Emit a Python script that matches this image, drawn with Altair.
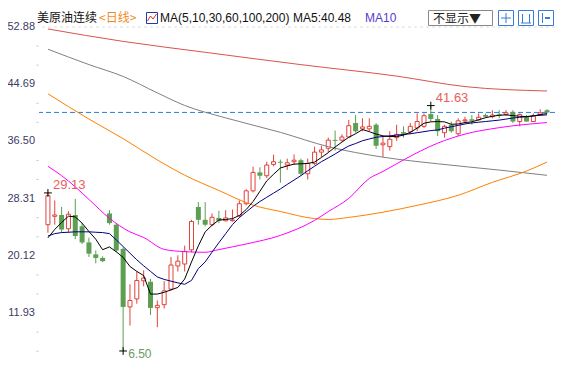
import altair as alt
import pandas as pd

# ---------------- data ----------------
opens = [24.58, 25.78, 25.97, 24.00, 25.97, 24.35, 22.04, 20.33, 19.82, 26.19,
         24.58, 21.12, 12.81, 13.96, 16.55, 16.41, 12.71, 13.13, 15.35, 18.67,
         18.95, 20.98, 27.12, 25.28, 24.58, 25.55, 25.14, 25.14, 25.87, 27.58,
         29.43, 32.06, 31.59, 33.21, 33.59, 33.12, 33.59, 33.81, 31.87, 33.35,
         34.97, 35.53, 36.72, 36.68, 37.13, 39.13, 38.30, 38.30, 38.89, 36.02,
         35.75, 37.05, 37.83, 37.88, 38.43, 38.66, 40.41, 39.72, 37.74, 38.89,
         37.60, 39.45, 39.68, 39.58, 40.28, 40.04, 40.37, 40.37, 40.73, 39.35,
         40.04, 39.35, 40.28, 40.97]
highs = [29.13, 28.05, 27.12, 26.52, 28.27, 24.81, 22.73, 20.89, 20.06, 26.66,
         24.81, 21.34, 16.04, 17.88, 18.05, 16.83, 13.73, 16.50, 19.96, 20.19,
         21.58, 25.28, 27.81, 27.81, 26.19, 26.56, 26.66, 26.75, 28.05, 29.65,
         32.89, 32.80, 33.59, 34.60, 33.91, 34.04, 34.64, 34.04, 34.04, 35.75,
         35.89, 37.05, 38.06, 37.51, 39.58, 40.28, 39.82, 39.82, 39.13, 37.27,
         37.96, 38.89, 38.66, 39.13, 40.51, 40.51, 41.63, 40.28, 38.89, 39.35,
         39.82, 40.04, 40.28, 40.51, 40.51, 40.97, 40.97, 40.97, 40.97, 40.51,
         40.28, 40.51, 41.11, 41.11]
lows = [23.42, 24.58, 23.42, 23.42, 22.51, 21.81, 19.96, 19.04, 19.22, 24.58,
        20.65, 6.50, 10.15, 13.27, 15.76, 11.65, 9.90, 12.58, 15.11, 17.88,
        17.88, 20.65, 24.58, 24.35, 24.35, 24.81, 25.04, 25.04, 25.60, 27.35,
        29.20, 31.04, 31.27, 32.94, 30.58, 32.42, 33.12, 31.59, 31.04, 33.12,
        34.28, 34.97, 35.19, 36.50, 37.05, 37.74, 37.96, 37.96, 35.43, 34.28,
        35.19, 36.58, 37.05, 37.51, 37.96, 38.43, 39.35, 37.27, 37.05, 37.74,
        37.27, 39.13, 38.89, 39.45, 39.90, 39.82, 39.82, 40.18, 39.13, 38.66,
        39.30, 39.30, 40.18, 40.51]
closes = [28.74, 25.97, 23.89, 26.08, 22.96, 22.04, 20.43, 19.82, 19.36, 24.81,
          20.89, 12.81, 13.73, 16.59, 16.94, 12.67, 13.03, 15.11, 18.81, 19.36,
          20.75, 25.04, 25.28, 24.58, 25.64, 25.14, 25.55, 25.25, 27.58, 29.43,
          32.06, 31.59, 33.12, 33.59, 33.45, 33.45, 33.81, 31.87, 33.35, 34.97,
          35.29, 36.68, 36.58, 37.13, 38.75, 37.96, 38.57, 38.66, 35.89, 36.26,
          36.81, 37.51, 37.60, 38.66, 39.35, 40.18, 39.72, 37.96, 38.66, 37.96,
          39.45, 39.58, 39.45, 39.96, 40.04, 40.28, 40.18, 40.60, 39.35, 40.37,
          39.35, 40.18, 40.60, 40.65]

ma5 = [22.7, 23.9, 24.9, 25.8, 25.7, 24.8, 23.6, 22.5, 21.0, 21.4,
       20.7, 19.9, 18.6, 17.9, 17.3, 14.65, 14.65, 14.9, 15.25, 15.6,
       16.8, 19.25, 21.55, 23.55, 24.5, 25.25, 25.33, 25.45, 25.9, 26.75,
       27.9, 29.36, 30.85, 31.8, 32.7, 33.0, 33.25, 33.3, 33.35, 33.55,
       34.2, 34.9, 35.7, 36.4, 37.1, 37.6, 38.2, 37.9, 37.55, 37.3,
       37.2, 37.2, 37.4, 37.8, 38.4, 39.1, 39.3, 39.35, 39.3, 38.95,
       39.0, 39.2, 39.3, 39.6, 39.9, 40.1, 40.25, 40.3, 40.2, 40.1,
       40.05, 40.15, 40.35, 40.48]
ma10 = [22.96, 23.3, 23.45, 23.5, 23.56, 23.56, 23.56, 23.5, 23.45, 23.3,
        22.4, 21.45, 20.5, 19.55, 18.7, 17.9, 17.1, 16.75, 16.5, 16.25,
        16.05, 16.6, 18.3, 19.25, 20.65, 22.0, 23.3, 24.6, 25.6, 26.4,
        27.2, 27.9, 28.5, 29.1, 29.7, 30.35, 30.97, 31.6, 32.3, 32.95,
        33.6, 34.14, 34.7, 35.3, 35.85, 36.2, 36.6, 36.85, 37.1, 37.2,
        37.3, 37.4, 37.5, 37.6, 37.75, 37.9, 38.05, 38.15, 38.4, 38.6,
        38.8, 39.0, 39.15, 39.25, 39.35, 39.45, 39.55, 39.7, 39.85, 39.95,
        40.05, 40.15, 40.25, 40.3]
ma30_day = [0, 2, 4, 6, 9, 12, 14, 17, 20, 23, 25, 29, 34, 39, 41, 44, 47, 49, 52, 57, 61, 66, 73]
ma30 = [32.94, 31.6, 30.0, 28.2, 25.5, 23.55, 22.75, 21.05, 20.72, 20.63, 21.02, 21.82,
        23.05, 25.2, 26.45, 28.35, 31.2, 32.2, 33.85, 36.25, 37.55, 38.47, 39.2]
ma60_day = [0, 6, 11, 16, 20, 25, 30, 34, 39, 41, 44, 49, 54, 60, 65, 70, 73]
ma60 = [43.32, 39.7, 36.9, 33.85, 31.67, 29.48, 27.38, 26.47, 25.45, 25.33, 25.62,
        26.37, 27.35, 28.79, 30.64, 32.26, 33.55]
ma100_day = [0, 6, 11, 16, 20, 26, 34, 41, 49, 57, 66, 73]
ma100 = [49.70, 47.5, 45.8, 43.45, 41.65, 39.87, 37.8, 35.75, 34.25, 33.3, 32.4, 31.65]
ma200_day = [0, 11, 23, 37, 51, 61, 73]
ma200 = [52.60, 50.82, 49.26, 47.49, 45.85, 44.35, 43.72]

y_ticks = [11.93, 20.12, 28.31, 36.50, 44.69, 52.88]
y_minor = [50.15, 47.42, 41.96, 39.23, 33.77, 31.04, 25.58, 22.85, 17.39, 14.66, 9.20, 6.47]
last_price = 40.65

mark_day = [0, 11, 56]
mark_val = [29.13, 6.50, 41.63]

# ---------------- styling ----------------
RED = "#e2423a"
GREEN = "#5c9e52"
LBL_RED = "#e8605a"
LBL_GREEN = "#6a9a6a"
AXIS_C = "#c6d9ea"

n = len(opens)
df = pd.DataFrame({"i": list(range(n)), "open": opens, "high": highs,
                   "low": lows, "close": closes})

XS = alt.Scale(domain=[-0.5737, 73.43], nice=False, zero=False)
YS = alt.Scale(domain=[4.782, 55.600], nice=False, zero=False)


def xq(f="i:Q"):
    return alt.X(f, scale=XS, axis=None)


def yq(f):
    return alt.Y(f, scale=YS, axis=None)


layers = []

# y axis: domain line + major ticks
tick_df = pd.DataFrame({"v": y_ticks})
axis_layer = alt.Chart(tick_df).mark_rule(opacity=0).encode(
    y=alt.Y("v:Q", scale=YS,
            axis=alt.Axis(values=y_ticks, labels=False, title=None, grid=False,
                          domainColor=AXIS_C, tickColor=AXIS_C, tickSize=4))
)
layers.append(axis_layer)
# tick labels placed through the same y scale
layers.append(alt.Chart(tick_df).mark_text(
    align="right", baseline="middle", font="Liberation Sans", fontSize=11,
    color="#3b3b63").encode(y=yq("v:Q"), x=alt.value(-4),
                            text=alt.Text("v:Q", format=".2f")))

minor = alt.Chart(pd.DataFrame({"v": y_minor})).mark_rule(color=AXIS_C).encode(
    y=yq("v:Q"), x=alt.value(-3), x2=alt.value(0))
layers.append(minor)

top_dash = alt.Chart(pd.DataFrame({"v": [y_ticks[-1]]})).mark_rule(
    color="#dddddd", strokeDash=[3, 3]).encode(y=yq("v:Q"))
layers.append(top_dash)

last_line = alt.Chart(pd.DataFrame({"v": [last_price]})).mark_rule(
    color="#2a7fdd", strokeDash=[5, 3], strokeWidth=1).encode(y=yq("v:Q"))
layers.append(last_line)

base = alt.Chart(df)
up = base.transform_filter("datum.close >= datum.open")
dn = base.transform_filter("datum.close < datum.open")

layers.append(up.mark_rule(color=RED, strokeWidth=1).encode(
    x=xq(), y=yq("low:Q"), y2="high:Q"))
layers.append(dn.mark_rule(color=GREEN, strokeWidth=1).encode(
    x=xq(), y=yq("low:Q"), y2="high:Q"))
layers.append(up.mark_bar(size=4, fill="white", stroke=RED, strokeWidth=1).encode(
    x=xq(), y=yq("open:Q"), y2="close:Q"))
layers.append(dn.mark_bar(size=5, color=GREEN).encode(
    x=xq(), y=yq("open:Q"), y2="close:Q"))


def ma_layer(days, vals, color, interp="monotone"):
    d = pd.DataFrame({"i": days, "v": vals})
    return alt.Chart(d).mark_line(color=color, strokeWidth=1, interpolate=interp).encode(
        x=xq(), y=yq("v:Q"))


layers.append(ma_layer(ma200_day, ma200, "#d9534f"))
layers.append(ma_layer(ma100_day, ma100, "#808080"))
layers.append(ma_layer(ma60_day, ma60, "#ff8000"))
layers.append(ma_layer(ma30_day, ma30, "#ff00ff"))
layers.append(ma_layer(list(range(n)), ma10, "#000080", "linear"))
layers.append(ma_layer(list(range(n)), ma5, "#000000", "linear"))

# extreme markers and labels
mk = pd.DataFrame({"i": mark_day, "v": mark_val})
layers.append(alt.Chart(mk).mark_point(shape="M-1,0L1,0M0,-1L0,1", size=60, filled=False,
                                       color="black", strokeWidth=1, opacity=1).encode(
    x=xq(), y=yq("v:Q")))
lab = alt.Chart(mk)
layers.append(lab.transform_filter("datum.i == 0").mark_text(
    align="left", baseline="middle", dx=5, dy=-8, font="Liberation Sans", fontSize=13,
    color=LBL_RED).encode(x=xq(), y=yq("v:Q"), text=alt.Text("v:Q", format=".2f")))
layers.append(lab.transform_filter("datum.i == 11").mark_text(
    align="left", baseline="middle", dx=5, dy=3, font="Liberation Sans", fontSize=12,
    color=LBL_GREEN).encode(x=xq(), y=yq("v:Q"), text=alt.Text("v:Q", format=".2f")))
layers.append(lab.transform_filter("datum.i == 56").mark_text(
    align="left", baseline="middle", dx=5, dy=-8, font="Liberation Sans", fontSize=13,
    color=LBL_RED).encode(x=xq(), y=yq("v:Q"), text=alt.Text("v:Q", format=".2f")))

# ---------------- header ----------------
one = pd.DataFrame({"k": [0]})
HY = 14  # text baseline, px from the top of the plot area


def htext(txt, x, color="#000000", font="Liberation Sans", size=12, y=HY):
    return alt.Chart(one).mark_text(align="left", baseline="alphabetic", font=font,
                                    fontSize=size, color=color, text=txt).encode(
        x=alt.value(x), y=alt.value(y))


def hrect(x1, x2, y1, y2, stroke, fill="white", sw=1):
    return alt.Chart(one).mark_rect(stroke=stroke, fill=fill, strokeWidth=sw).encode(
        x=alt.value(x1), x2=alt.value(x2), y=alt.value(y1), y2=alt.value(y2))


def hseg(x1, x2, y1, y2, color, sw=1):
    return alt.Chart(one).mark_rule(color=color, strokeWidth=sw).encode(
        x=alt.value(x1), x2=alt.value(x2), y=alt.value(y1), y2=alt.value(y2))


CJK = "Noto Sans CJK SC"
layers.append(htext("美原油连续", -2, "#111111", CJK, 12))
layers.append(htext("<日线>", 60, "#f08a24", CJK, 12))
# small chart icon
layers.append(hrect(107.5, 118.5, 4.5, 15.5, "#1f3f9f"))
layers.append(hseg(108.5, 111.5, 13, 8, "#e03030"))
layers.append(hseg(111.5, 114, 8, 11, "#e03030"))
layers.append(hseg(114, 117.5, 11, 6, "#e03030"))
layers.append(htext("MA(5,10,30,60,100,200)", 121, "#111111"))
layers.append(htext("MA5:40.48", 254, "#111111"))
layers.append(htext("MA10", 326, "#5a3acb"))
# "不显示" button
layers.append(hrect(389.5, 453.5, 2.5, 17.5, "#8a8a8a"))
layers.append(htext("不显示▼", 394, "#222222", CJK, 12, 15))
# three tool icons
for x0 in [459.5, 479.5, 499.5]:
    layers.append(hrect(x0, x0 + 15, 2.5, 17.5, "#3a7bd5", "#ffffff"))
layers.append(hseg(467, 467, 5, 15, "#3a7bd5"))
layers.append(hseg(462, 472, 10, 10, "#3a7bd5"))
layers.append(hseg(483.5, 483.5, 6, 15, "#3a7bd5"))
layers.append(hseg(490.5, 490.5, 6, 15, "#3a7bd5"))
layers.append(hseg(482, 492, 15, 15, "#3a7bd5"))
layers.append(hseg(503.5, 503.5, 5, 15, "#3a7bd5"))
layers.append(hseg(506, 511, 10, 10, "#3a7bd5", 2))

chart = alt.layer(*layers).properties(
    width=516, height=355,
    autosize=alt.AutoSizeParams(type="none"),
    padding={"left": 31, "top": 0, "right": 0, "bottom": 0},
).configure_view(stroke=None)

chart.save("out.html", embed_options={"renderer": "svg", "actions": False})
